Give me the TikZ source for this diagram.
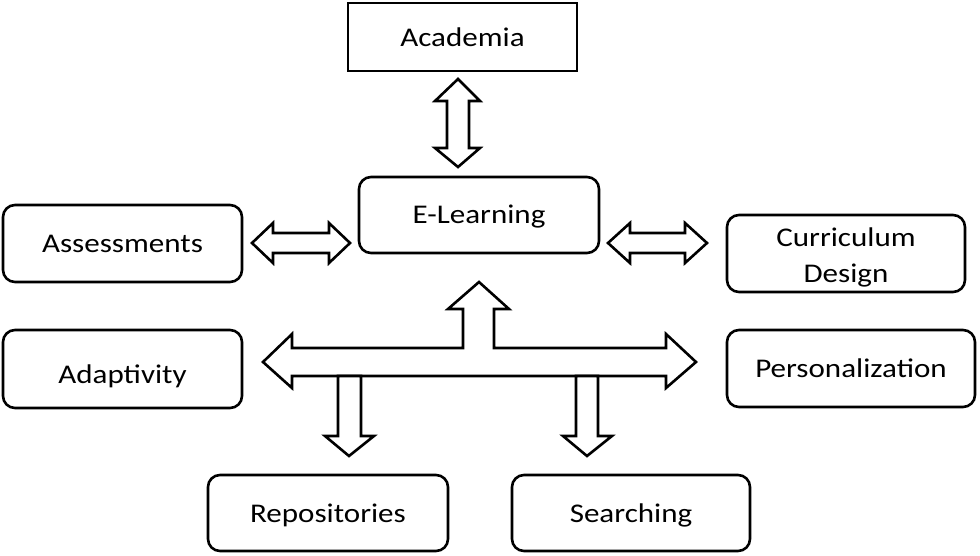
\documentclass[tikz,border=0pt]{standalone}
\usepackage{fontspec}
\setmainfont{Carlito}[FakeStretch=1.15]
\begin{document}
\begin{tikzpicture}[x=1pt,y=-1pt,
  box/.style={draw=black,line width=2.6pt,fill=white,rounded corners=12pt,
    align=center,inner sep=0pt,outer sep=0pt,font=\fontsize{27}{36}\selectfont},
  sharpbox/.style={box,rounded corners=0pt},
  blockarrow/.style={draw=black,line width=2.6pt,fill=white,line join=miter}]
\useasboundingbox (0,0) rectangle (980,555);

% boxes
\node[sharpbox,minimum width=229pt,minimum height=68pt] (acad) at (462.5,37) {Academia};
\node[box,minimum width=240pt,minimum height=76pt] (elearn) at (479,215) {\rule{0pt}{22pt}E-Learning};
\node[box,minimum width=239pt,minimum height=77pt] (assess) at (122.5,243.5) {Assessments};
\node[box,minimum width=238pt,minimum height=77pt] (curr) at (846,253.5) {\rule{0pt}{27pt}Curriculum\\Design};
\node[box,minimum width=239pt,minimum height=78pt] (adapt) at (122.5,369) {\rule{0pt}{34pt}Adaptivity};
\node[box,minimum width=248pt,minimum height=77pt] (pers) at (851,368.5) {Personalization};
\node[box,minimum width=240pt,minimum height=76pt] (repo) at (328,513) {\rule{0pt}{24pt}Repositories};
\node[box,minimum width=238pt,minimum height=76pt] (search) at (631,513) {\rule{0pt}{24pt}Searching};

% Academia <-> E-Learning
\draw[blockarrow] (458,79) -- (480,101) -- (469,101) -- (469,148) -- (480,148)
  -- (458,167) -- (435,148) -- (447,148) -- (447,101) -- (435,101) -- cycle;

% Assessments <-> E-Learning
\draw[blockarrow] (252,243) -- (273,223) -- (273,233) -- (329,233) -- (329,223)
  -- (350,243) -- (329,263) -- (329,253) -- (273,253) -- (273,263) -- cycle;

% E-Learning <-> Curriculum Design
\draw[blockarrow] (608,243) -- (630,223) -- (630,233) -- (685,233) -- (685,223)
  -- (707,243) -- (685,263) -- (685,253) -- (630,253) -- (630,263) -- cycle;

% composite arrow
\draw[blockarrow] (263,362) -- (292,334) -- (292,348) -- (463,348) -- (463,309)
  -- (448,309) -- (479,282) -- (509,309) -- (494,309) -- (494,348) -- (666,348)
  -- (666,334) -- (696,362) -- (666,388) -- (666,376) -- (292,376) -- (292,388) -- cycle;

% down arrows
\draw[blockarrow] (338,376) -- (338,436) -- (325,436) -- (349,456) -- (374,436)
  -- (361,436) -- (361,376) -- cycle;
\draw[blockarrow] (576,376) -- (576,436) -- (563,436) -- (587,456) -- (612,436)
  -- (598,436) -- (598,376) -- cycle;
\end{tikzpicture}
\end{document}
